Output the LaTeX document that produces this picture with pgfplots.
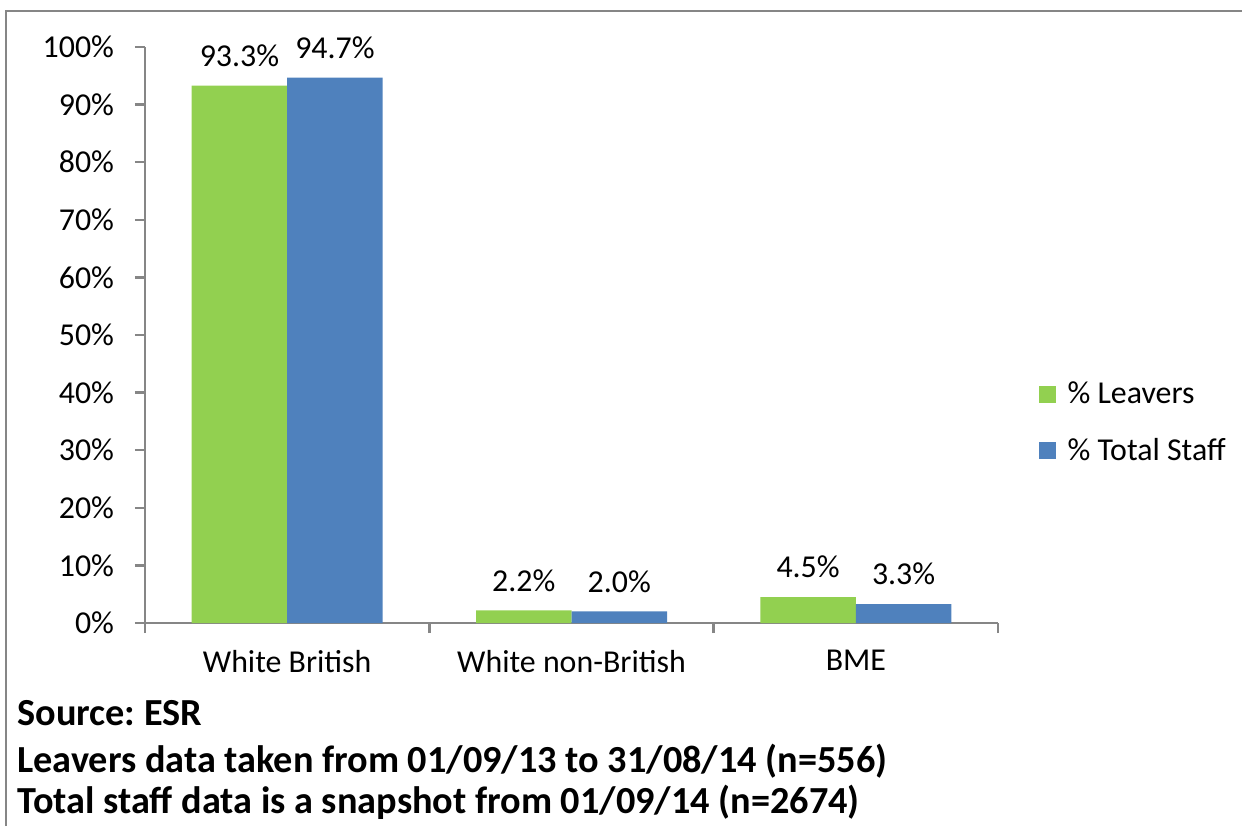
\documentclass[border=0pt]{standalone}
\usepackage{fontspec}
\setmainfont{Carlito}
\usepackage{pgfplots}
\pgfplotsset{compat=1.18}
\definecolor{cgreen}{HTML}{92D050}
\definecolor{cblue}{HTML}{4F81BD}
\definecolor{caxis}{HTML}{868686}
\frenchspacing
\begin{document}
\begin{tikzpicture}[x=0.5bp,y=-0.5bp]
\path[use as bounding box] (0,0) rectangle (1242,826);
\draw[caxis, line width=1.2bp] (6,826) -- (6,11) -- (1242,11);
\coordinate (A) at (145,623);
\begin{axis}[
  at={(A)}, anchor=south west,
  scale only axis, width=426.5bp, height=288bp,
  font=\fontsize{16}{19}\selectfont,
  ybar=0pt, bar width=47.75bp,
  xmin=-0.5, xmax=2.5, ymin=0, ymax=100,
  axis x line=bottom, axis y line=left,
  axis line style={caxis, line width=1.2bp, -},
  tick align=outside,
  major tick length=5bp, minor tick length=5bp,
  tick style={caxis, line width=1.2bp},
  ytick={0,10,...,100},
  yticklabels={0\%,10\%,20\%,30\%,40\%,50\%,60\%,70\%,80\%,90\%,100\%},
  yticklabel style={xshift=-7bp},
  xtick={0,1,2},
  xticklabels={White British, White non-British, BME},
  xticklabel style={yshift=-5bp},
  minor xtick={-0.5,0.5,1.5,2.5},
  major x tick style={draw=none},
  /pgf/number format/assume math mode=true,
  nodes near coords={\pgfmathprintnumber[fixed,fixed zerofill,precision=1]{\pgfplotspointmeta}\%},
  nodes near coords style={font=\fontsize{16}{19}\selectfont, anchor=south, yshift=6bp},
  legend style={at={(1.047,0.348)}, anchor=west, draw=none, fill=none,
    font=\fontsize{16}{19}\selectfont, row sep=12bp, column sep=4bp, inner sep=0pt},
  legend cell align=left,
  legend image code/.code={\fill[#1] (0bp,-4.25bp) rectangle (8.5bp,4.25bp);},
]
\addplot[fill=cgreen, draw=none] coordinates {(0,93.3) (1,2.2) (2,4.5)};
\addplot[fill=cblue, draw=none] coordinates {(0,94.7) (1,2.0) (2,3.3)};
\legend{\% Leavers, \% Total Staff}
\end{axis}
\begin{scope}[every node/.style={anchor=base west, inner sep=0pt, font=\bfseries\fontsize{19.2}{23}\selectfont}]
\node at (17,725) {Source: ESR};
\node at (17,772) {Leavers data taken from 01/09/13 to 31/08/14 (n=556)};
\node at (17,813) {Total staff data is a snapshot from 01/09/14 (n=2674)};
\end{scope}
\end{tikzpicture}
\end{document}
